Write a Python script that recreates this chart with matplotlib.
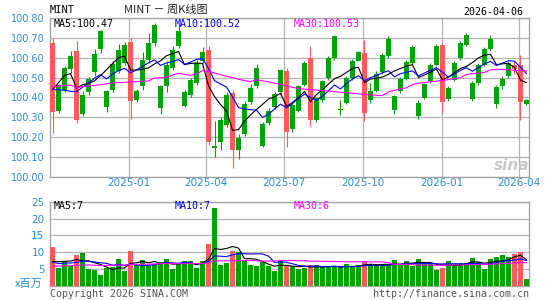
import matplotlib
matplotlib.use('Agg')
import matplotlib.pyplot as plt
import matplotlib.dates as mdates
import numpy as np
import pandas as pd

# weekly candles (80 weeks)
opens = [100.675, 100.33, 100.44, 100.545, 100.635, 100.315, 100.427, 100.527, 100.645, 100.35,
         100.437, 100.535, 100.573, 100.677, 100.385, 100.457, 100.59, 100.675, 100.345, 100.457,
         100.548, 100.657, 100.357, 100.415, 100.473, 100.582, 100.64, 100.148, 100.175, 100.26,
         100.423, 100.137, 100.215, 100.375, 100.46, 100.157, 100.273, 100.35, 100.43, 100.532,
         100.24, 100.332, 100.465, 100.598, 100.285, 100.385, 100.498, 100.598, 100.335, 100.373,
         100.498, 100.585, 100.625, 100.385, 100.435, 100.528, 100.607, 100.335, 100.435, 100.495,
         100.573, 100.307, 100.398, 100.482, 100.565, 100.665, 100.39, 100.49, 100.598, 100.665,
         100.39, 100.473, 100.565, 100.643, 100.368, 100.457, 100.507, 100.565, 100.565, 100.365]
closes = [100.328, 100.465, 100.55, 100.607, 100.285, 100.415, 100.495, 100.62, 100.735, 100.435,
          100.57, 100.64, 100.665, 100.38, 100.435, 100.59, 100.675, 100.765, 100.457, 100.565,
          100.64, 100.733, 100.43, 100.49, 100.573, 100.63, 100.175, 100.157, 100.287, 100.415,
          100.137, 100.197, 100.365, 100.45, 100.55, 100.265, 100.332, 100.42, 100.537, 100.225,
          100.36, 100.457, 100.573, 100.285, 100.398, 100.485, 100.598, 100.707, 100.343, 100.498,
          100.585, 100.627, 100.32, 100.435, 100.518, 100.615, 100.695, 100.407, 100.495, 100.577,
          100.653, 100.373, 100.468, 100.565, 100.657, 100.378, 100.448, 100.573, 100.673, 100.712,
          100.473, 100.565, 100.643, 100.695, 100.452, 100.493, 100.573, 100.545, 100.378, 100.385]
highs = [100.70, 100.47, 100.56, 100.635, 100.685, 100.435, 100.505, 100.645, 100.74, 100.44,
         100.585, 100.67, 100.68, 100.70, 100.445, 100.63, 100.725, 100.775, 100.465, 100.585,
         100.657, 100.77, 100.44, 100.50, 100.59, 100.653, 100.657, 100.28, 100.30, 100.43,
         100.44, 100.215, 100.38, 100.47, 100.57, 100.277, 100.345, 100.43, 100.545, 100.55,
         100.37, 100.465, 100.582, 100.657, 100.405, 100.49, 100.607, 100.715, 100.385, 100.507,
         100.595, 100.635, 100.69, 100.473, 100.532, 100.623, 100.707, 100.415, 100.502, 100.59,
         100.662, 100.385, 100.473, 100.573, 100.668, 100.678, 100.457, 100.582, 100.682, 100.723,
         100.485, 100.573, 100.652, 100.715, 100.462, 100.507, 100.582, 100.585, 100.615, 100.39]
lows = [100.223, 100.32, 100.43, 100.525, 100.27, 100.305, 100.415, 100.51, 100.625, 100.325,
        100.43, 100.525, 100.565, 100.29, 100.375, 100.44, 100.575, 100.66, 100.315, 100.43,
        100.54, 100.648, 100.35, 100.405, 100.465, 100.575, 100.16, 100.10, 100.135, 100.25,
        100.043, 100.093, 100.205, 100.365, 100.45, 100.15, 100.26, 100.34, 100.415, 100.153,
        100.228, 100.325, 100.457, 100.257, 100.275, 100.378, 100.49, 100.59, 100.31, 100.365,
        100.49, 100.582, 100.28, 100.373, 100.428, 100.518, 100.598, 100.318, 100.423, 100.49,
        100.565, 100.29, 100.39, 100.473, 100.557, 100.323, 100.382, 100.482, 100.59, 100.657,
        100.382, 100.465, 100.557, 100.632, 100.345, 100.445, 100.498, 100.52, 100.285, 100.362]
volumes = [11.4, 5.3, 7.3, 5.8, 9.0, 9.7, 5.0, 4.6, 3.1, 5.2,
           5.6, 7.8, 4.4, 10.2, 6.1, 7.5, 5.8, 6.4, 7.0, 7.8,
           4.9, 6.4, 7.3, 7.3, 5.2, 7.3, 12.3, 23.1, 6.1, 6.7,
           10.2, 9.9, 7.3, 6.1, 5.8, 7.0, 5.8, 4.3, 7.3, 5.8,
           5.8, 4.9, 5.2, 6.0, 6.1, 5.5, 5.5, 5.5, 5.5, 6.4,
           5.6, 6.1, 7.3, 6.4, 5.8, 5.8, 6.4, 7.5, 6.4, 7.3,
           5.8, 7.8, 7.0, 6.4, 4.6, 5.2, 7.3, 6.7, 6.7, 6.7,
           8.1, 7.0, 4.9, 7.8, 8.4, 9.0, 8.4, 9.3, 10.0, 2.0]

# estimated weeks before the visible window (only used to warm up the moving averages)
prior_close = [100.32, 100.45, 100.55, 100.64, 100.30, 100.40, 100.52, 100.62, 100.33, 100.44,
               100.56, 100.65, 100.29, 100.41, 100.53, 100.63, 100.31, 100.43, 100.52, 100.28,
               100.47, 100.58, 100.66, 100.30, 100.19, 100.29, 100.37, 100.56, 100.65]
prior_volume = [5.0, 4.5, 6.0, 5.5, 4.8, 5.2, 8.0, 4.6, 5.0, 4.4,
                5.5, 4.9, 5.1, 4.7, 5.3, 6.2, 4.8, 5.0, 4.5, 5.0,
                9.5, 6.0, 5.5, 7.0, 6.0, 5.8, 6.5, 5.5, 6.8]

price_ticks = [100.00, 100.10, 100.20, 100.30, 100.40, 100.50, 100.60, 100.70, 100.80]
vol_ticks = [5, 10, 15, 20, 25]
month_ticks = ['2025-01-01', '2025-04-01', '2025-07-01', '2025-10-01', '2026-01-01', '2026-04-01']
main_labels = ['MA5:100.47', 'MA10:100.52', 'MA30:100.53']
vol_labels = ['MA5:7', 'MA10:7', 'MA30:6']

RED = '#ff5a5a'
GREEN = '#00a300'
BLUE_TXT = '#2a8cd2'
GRID = '#b4b4b4'
MA_COLORS = ['black', '#0000ff', '#ff00ff']

dates = pd.date_range(end='2026-04-10', periods=len(closes), freq='W-FRI')
x = mdates.date2num(dates)

o = np.array(opens); c = np.array(closes)
colors = [RED if cc < oo else GREEN for oo, cc in zip(o, c)]

close_all = pd.Series(prior_close + closes)
vol_all = pd.Series(prior_volume + volumes)
n0 = len(prior_close)
ma_price = [close_all.rolling(w, min_periods=1).mean().values[n0:] for w in (5, 10, 30)]
ma_vol = [vol_all.rolling(w, min_periods=1).mean().values[n0:] for w in (5, 10, 30)]

W, H = 545, 300
fig = plt.figure(figsize=(W / 100, H / 100), dpi=100)
ax = fig.add_axes([50 / W, 1 - 177 / H, 479 / W, 159 / H])
axv = fig.add_axes([50 / W, 1 - 285.5 / H, 479 / W, 83.5 / H])

xlim = (x[0] - 3.0, x[-1] + 3.0)

# candles
ax.vlines(x, lows, highs, colors=colors, linewidth=0.8, zorder=3)
body_lo = np.minimum(o, c)
body_h = np.maximum(np.abs(c - o), 0.004)
ax.bar(x, body_h, bottom=body_lo, width=5.4, color=colors, linewidth=0, zorder=4)
for m, col in zip(ma_price, MA_COLORS):
    ax.plot(x, m, color=col, linewidth=0.8, zorder=5)

ax.set_xlim(xlim)
ax.set_ylim(100.0, 100.8)
ax.set_yticks(price_ticks)
ax.set_yticklabels(['%.2f' % t for t in price_ticks])
tick_x = mdates.datestr2num(month_ticks)
ax.set_xticks(tick_x)
ax.set_xticklabels([t[:7] for t in month_ticks])
ax.grid(True, color=GRID, linewidth=0.9, zorder=0)
ax.tick_params(axis='y', length=0, labelsize=7, labelcolor=BLUE_TXT, pad=4)
ax.tick_params(axis='x', length=0, labelsize=7.5, labelcolor=BLUE_TXT, pad=1)

# volume
axv.bar(x, volumes, width=5.4, color=colors, linewidth=0, zorder=3)
for m, col in zip(ma_vol, MA_COLORS):
    axv.plot(x, m, color=col, linewidth=0.8, zorder=5)
axv.set_xlim(xlim)
axv.set_ylim(0, 25)
axv.set_yticks(vol_ticks)
axv.set_yticklabels([str(t) for t in vol_ticks])
axv.set_xticks([])
axv.grid(True, axis='y', color=GRID, linewidth=0.9, zorder=0)
axv.tick_params(axis='both', length=0, labelsize=7.5, labelcolor=BLUE_TXT, pad=4)

for a in (ax, axv):
    a.set_axisbelow(True)
    for s in a.spines.values():
        s.set_color('#a0a0a0')
        s.set_linewidth(0.9)

def ftext(px, py, s, **kw):
    fig.text(px / W, 1 - py / H, s, va='center', **kw)

mono = 'DejaVu Sans Mono'
for lab, col, px in zip(main_labels, MA_COLORS, (54, 175, 294)):
    ftext(px, 24, lab, color=col, fontsize=7.2, family=mono)
for lab, col, px in zip(vol_labels, MA_COLORS, (54, 175, 294)):
    ftext(px, 206, lab, color=col, fontsize=7.2, family=mono)

ftext(50, 10, 'MINT', color='black', fontsize=7.5, family=mono)
ftext(166, 10, 'MINT － 周K线图', color='#222222', fontsize=8, ha='center',
      family=['Noto Sans CJK SC', 'DejaVu Sans'])
ftext(523, 12, '2026-04-06', color='black', fontsize=7.2, family=mono, ha='right')
ftext(43, 284, 'x百万', color=BLUE_TXT, fontsize=8, ha='right',
      family=['Noto Sans CJK SC', 'DejaVu Sans'])
ftext(50, 294, 'Copyright 2026 SINA.COM', color='#555555', fontsize=7.2, family=mono)
ftext(529, 294, 'http://finance.sina.com.cn', color='#555555', fontsize=7.2, family=mono, ha='right')
ftext(512, 166, 'sina', color='#c8c8c8', fontsize=11, style='italic', weight='bold', ha='center')

fig.savefig('out.png', dpi=100)
